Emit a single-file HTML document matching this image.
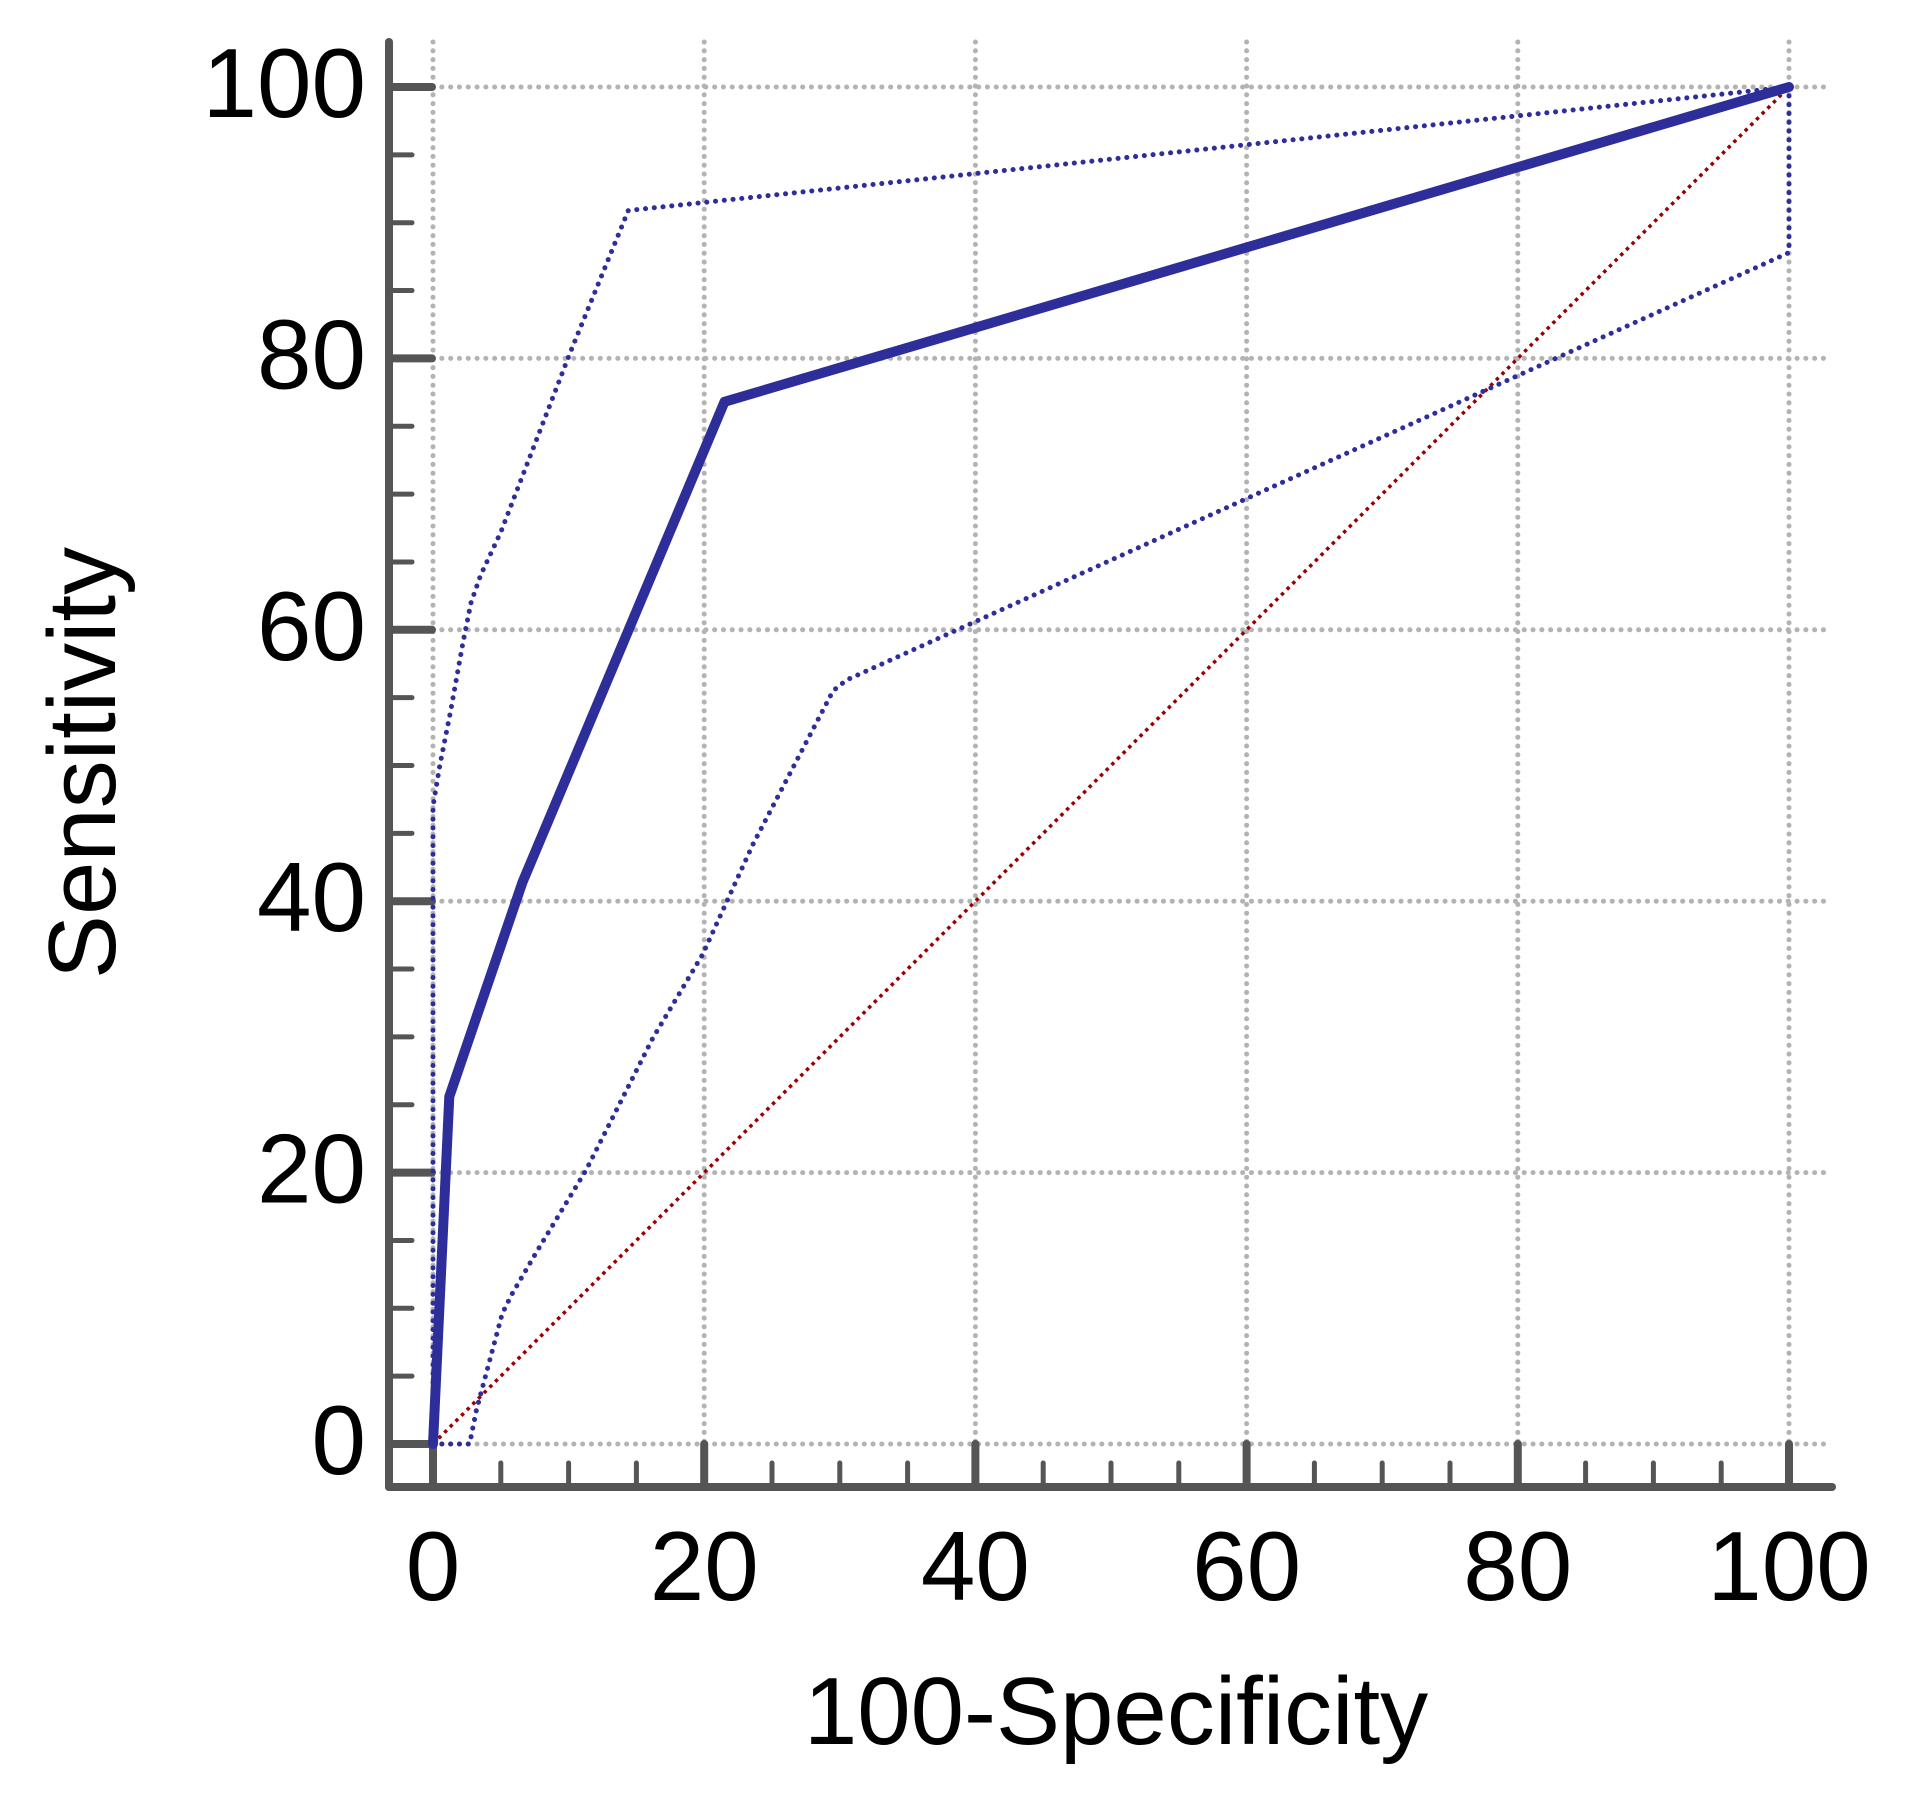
<!DOCTYPE html>
<html><head><meta charset="utf-8"><style>
html,body{margin:0;padding:0;background:#fff;}
svg{display:block;font-family:"Liberation Sans",Arial,sans-serif;}
</style></head>
<body>
<svg id="chart" width="1907" height="1794" viewBox="0 0 1907 1794">
  <g id="grid"></g>
  <g id="axes"></g>
  <g id="series"></g>
  <g id="labels"></g>
  <text x="1116" y="1744" font-size="96" text-anchor="middle" fill="#000">100-Specificity</text>
  <text transform="translate(115,763) rotate(-90)" font-size="96" text-anchor="middle" fill="#000">Sensitivity</text>
</svg>
<script>
const xTicks = [0, 20, 40, 60, 80, 100];
const yTicks = [0, 20, 40, 60, 80, 100];
const rocX = [0, 1.2, 6.6, 21.5, 100];
const rocY = [0, 25.6, 41.4, 76.8, 100];
const upperX = [0, 0, 0.5, 1.3, 2.2, 2.8, 3.5, 5, 10.1, 14.4, 100];
const upperY = [0, 47, 50, 54, 59, 62, 64, 67.2, 80.4, 90.9, 100];
const lowerX = [0, 2.7, 3.2, 5.1, 5.8, 7.6, 11.3, 16.2, 19.9, 23.6, 29.5, 30.5, 100, 100];
const lowerY = [0, 0, 2.5, 9.6, 11, 14.1, 20.2, 29.9, 36.1, 44.2, 55.5, 56.3, 87.8, 100];
const diagX = [0, 100];
const diagY = [0, 100];

const NS = 'http://www.w3.org/2000/svg';
const X0 = 433, X1 = 1789, Y0 = 1444, Y1 = 87;
function sx(v){ return X0 + (X1 - X0) * v / 100; }
function sy(v){ return Y0 - (Y0 - Y1) * v / 100; }
function mk(tag, attrs, parent){
  const e = document.createElementNS(NS, tag);
  for (const k in attrs) e.setAttribute(k, attrs[k]);
  parent.appendChild(e);
  return e;
}
const grid = document.getElementById('grid');
const axes = document.getElementById('axes');
const series = document.getElementById('series');
const labels = document.getElementById('labels');

xTicks.forEach(t => {
  const l = mk('line', {x1: sx(t), x2: sx(t), y1: 42, y2: Y0, stroke: '#b3b3b3', 'stroke-width': 5, 'stroke-dasharray': '0.1 8.7', 'stroke-linecap': 'round'}, grid);
  
  
});
yTicks.forEach(t => {
  const l = mk('line', {x1: X0, x2: 1828, y1: sy(t), y2: sy(t), stroke: '#b3b3b3', 'stroke-width': 5, 'stroke-dasharray': '0.1 8.7', 'stroke-linecap': 'round'}, grid);
  
  
});

const ya = mk('line', {x1: 389, x2: 389, y1: 42, y2: 1487, stroke: '#555', 'stroke-width': 8, 'stroke-linecap': 'round'}, axes);


const xa = mk('line', {x1: 389, x2: 1832, y1: 1487, y2: 1487, stroke: '#555', 'stroke-width': 8, 'stroke-linecap': 'round'}, axes);



for (let v = 0; v <= 100; v += 5) {
  const major = v % 20 === 0;
  const ty = mk('line', {x1: 389, x2: major ? 432 : 412, y1: sy(v), y2: sy(v), stroke: '#555', 'stroke-width': major ? 8 : 5, 'stroke-linecap': 'round'}, axes);
  
  
  const tx = mk('line', {x1: sx(v), x2: sx(v), y1: major ? 1444 : 1463, y2: 1487, stroke: '#555', 'stroke-width': major ? 8 : 5, 'stroke-linecap': 'round'}, axes);
  
  
}

yTicks.forEach(t => {
  const e = mk('text', {x: 366, y: sy(t) + 30, 'font-size': 98, 'text-anchor': 'end', fill: '#000'}, labels);
  e.textContent = String(t);
  
  
});
xTicks.forEach(t => {
  const e = mk('text', {x: sx(t), y: 1600, 'font-size': 98, 'text-anchor': 'middle', fill: '#000'}, labels);
  e.textContent = String(t);
  
  
});

function pts(xs, ys){ return xs.map((x, i) => sx(x).toFixed(1) + ',' + sy(ys[i]).toFixed(1)).join(' '); }

const dg = mk('polyline', {points: pts(diagX, diagY), fill: 'none', stroke: '#990000', 'stroke-width': 3.5, 'stroke-dasharray': '3.5 4.5'}, series);



const lo = mk('polyline', {points: pts(lowerX, lowerY), fill: 'none', stroke: '#2e2e9a', 'stroke-width': 5, 'stroke-dasharray': '0.1 8.7', 'stroke-linecap': 'round', 'stroke-linejoin': 'round'}, series);



const up = mk('polyline', {points: pts(upperX, upperY), fill: 'none', stroke: '#2e2e9a', 'stroke-width': 5, 'stroke-dasharray': '0.1 8.7', 'stroke-linecap': 'round', 'stroke-linejoin': 'round'}, series);



const roc = mk('polyline', {points: pts(rocX, rocY), fill: 'none', stroke: '#2e2e9a', 'stroke-width': 10, 'stroke-linecap': 'round', 'stroke-linejoin': 'round'}, series);


</script>
</body></html>
